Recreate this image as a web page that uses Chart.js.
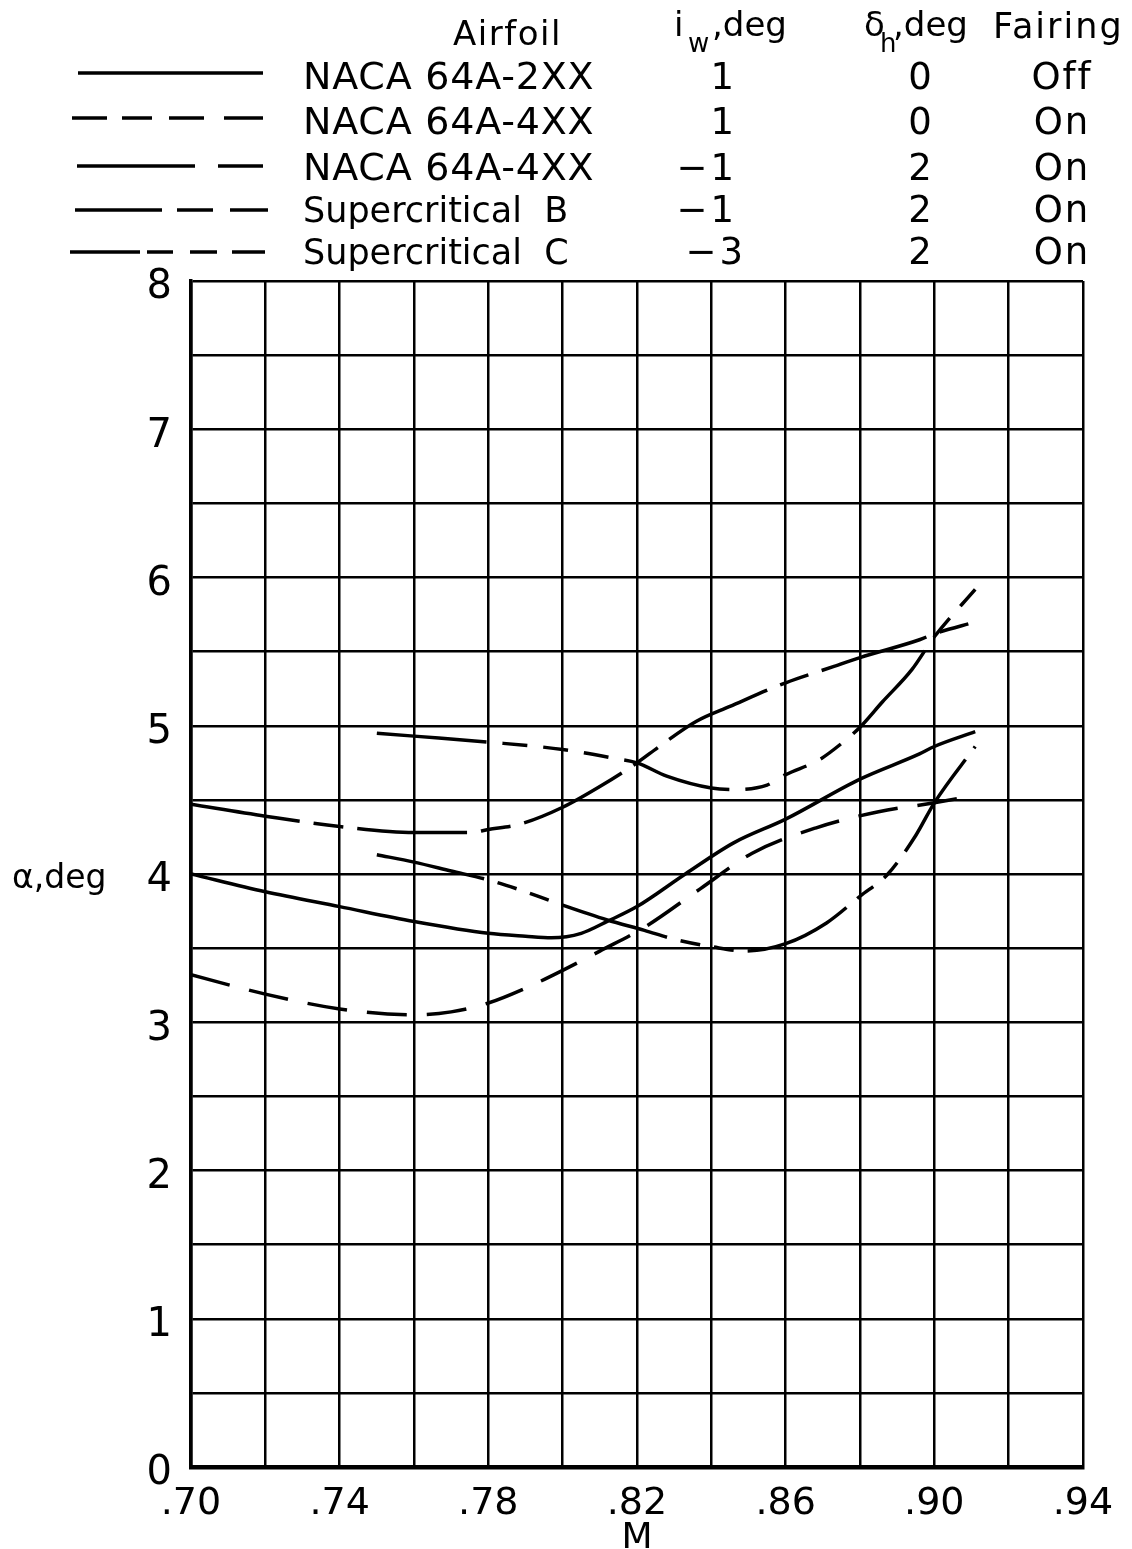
<!DOCTYPE html>
<html>
<head>
<meta charset="utf-8">
<script src="https://cdn.jsdelivr.net/npm/chart.js@4.4.1/dist/chart.umd.min.js"></script>
<style>
html,body{margin:0;padding:0;background:#fff;}
#wrap{position:relative;width:1132px;height:1549px;background:#fff;}
#c{position:absolute;left:0;top:0;}
#ov{position:absolute;left:0;top:0;pointer-events:none;}
#ov text{font-family:'DejaVu Sans',sans-serif;fill:#000;white-space:pre;}
</style>
</head>
<body>
<div id="wrap">
<canvas id="c" width="1132" height="1549"></canvas>
<svg id="ov" width="1132" height="1549" xmlns="http://www.w3.org/2000/svg"></svg>
</div>
<script>
// ---------- DATA ----------
const seriesNames = ['NACA 64A-2XX', 'NACA 64A-4XX', 'NACA 64A-4XX', 'Supercritical\u00a0\u00a0B', 'Supercritical\u00a0\u00a0C'];
const iwDeg = ['1', '1', '\u22121', '\u22121', '\u22123'];
const dhDeg = ['0', '0', '2', '2', '2'];
const fairing = ['Off', 'On', 'On', 'On', 'On'];

// NACA 64A-2XX, iw 1, dh 0, fairing off
const mach64A2XX = [0.70, 0.72, 0.74, 0.76, 0.78, 0.79, 0.797, 0.805, 0.812, 0.82, 0.833, 0.846, 0.86, 0.88, 0.896, 0.90, 0.911];
const alpha64A2XX = [4.00, 3.88, 3.78, 3.68, 3.60, 3.58, 3.57, 3.60, 3.68, 3.78, 4.00, 4.21, 4.37, 4.64, 4.81, 4.86, 4.96];

// NACA 64A-4XX, iw 1, dh 0, fairing on
const mach64A4XXa = [0.70, 0.72, 0.74, 0.76, 0.77, 0.78, 0.79, 0.80, 0.81, 0.822, 0.837, 0.851, 0.868, 0.885, 0.90, 0.911];
const alpha64A4XXa = [3.32, 3.19, 3.09, 3.05, 3.07, 3.13, 3.23, 3.35, 3.48, 3.64, 3.90, 4.14, 4.31, 4.42, 4.48, 4.53];

// NACA 64A-4XX, iw -1, dh 2, fairing on
const mach64A4XXb = [0.70, 0.72, 0.74, 0.76, 0.775, 0.78, 0.789, 0.80, 0.81, 0.82, 0.826, 0.836, 0.845, 0.86, 0.873, 0.88, 0.896, 0.90, 0.911];
const alpha64A4XXb = [4.47, 4.39, 4.32, 4.28, 4.28, 4.30, 4.34, 4.45, 4.59, 4.75, 4.86, 5.03, 5.13, 5.29, 5.40, 5.46, 5.58, 5.62, 5.70];

// Supercritical B, iw -1, dh 2, fairing on
const machSuperB = [0.75, 0.76, 0.77, 0.78, 0.79, 0.80, 0.812, 0.822, 0.83, 0.84, 0.849, 0.86, 0.871, 0.88, 0.8875, 0.895, 0.90, 0.911];
const alphaSuperB = [4.13, 4.08, 4.02, 3.96, 3.88, 3.79, 3.69, 3.62, 3.56, 3.51, 3.48, 3.53, 3.67, 3.85, 4.00, 4.26, 4.48, 4.86];

// Supercritical C, iw -3, dh 2, fairing on
const machSuperC = [0.75, 0.76, 0.78, 0.80, 0.814, 0.82, 0.828, 0.84, 0.846, 0.855, 0.86, 0.869, 0.875, 0.88, 0.886, 0.894, 0.90, 0.911];
const alphaSuperC = [4.95, 4.93, 4.89, 4.84, 4.78, 4.75, 4.66, 4.58, 4.57, 4.60, 4.67, 4.77, 4.88, 4.99, 5.16, 5.38, 5.60, 5.92];

const xTickValues = [0.70, 0.74, 0.78, 0.82, 0.86, 0.90, 0.94];
const xTickLabels = ['.70', '.74', '.78', '.82', '.86', '.90', '.94'];
const yTickValues = [0, 1, 2, 3, 4, 5, 6, 7, 8];
const yTickLabels = ['0', '1', '2', '3', '4', '5', '6', '7', '8'];
const xAxisTitle = 'M';
const yAxisTitle = '\u03b1,deg';

// ---------- STYLE ----------
const seriesX = [mach64A2XX, mach64A4XXa, mach64A4XXb, machSuperB, machSuperC];
const seriesY = [alpha64A2XX, alpha64A4XXa, alpha64A4XXb, alphaSuperB, alphaSuperC];
const seriesDash = [[], [40, 20], [110, 14, 30, 14], [110, 14, 20, 14, 20, 14], [110, 16, 25, 16, 25, 16, 25, 16]];

const FONT = "'DejaVu Sans', sans-serif";
const xGrid = Array.from({length: 13}, (_, i) => +(0.70 + i * 0.02).toFixed(2));
const yGrid = Array.from({length: 17}, (_, i) => i * 0.5);

const datasets = seriesNames.map((name, k) => ({
  label: name,
  data: seriesX[k].map((m, i) => ({x: m, y: seriesY[k][i]})),
  borderColor: '#000',
  borderWidth: 3.5,
  borderDash: seriesDash[k],
  borderCapStyle: 'butt',
  pointRadius: 0,
  fill: false,
  cubicInterpolationMode: 'monotone'
}));

new Chart(document.getElementById('c').getContext('2d'), {
  type: 'line',
  data: {datasets},
  options: {
    responsive: false,
    animation: false,
    layout: {padding: {left: 0, right: 49, top: 281, bottom: 0}},
    plugins: {legend: {display: false}, tooltip: {enabled: false}, title: {display: false}},
    scales: {
      x: {
        type: 'linear', min: 0.70, max: 0.94,
        afterFit: s => { s.height = 82; },
        afterBuildTicks: s => { s.ticks = xGrid.map(v => ({value: v})); },
        ticks: {
          autoSkip: false, maxRotation: 0, padding: 14, color: '#000',
          font: {family: FONT, size: 38},
          callback: v => { const i = xTickValues.findIndex(t => Math.abs(t - v) < 1e-6); return i >= 0 ? xTickLabels[i] : ''; }
        },
        grid: {color: '#000', lineWidth: 2.5, drawTicks: false},
        border: {color: '#000', width: 4.5},
        title: {display: true, text: xAxisTitle, color: '#000', font: {family: FONT, size: 36, lineHeight: 0.6}, padding: {top: 0, bottom: 0}}
      },
      y: {
        type: 'linear', min: 0, max: 8,
        afterFit: s => { s.width = 191; },
        afterBuildTicks: s => { s.ticks = yGrid.map(v => ({value: v})); },
        ticks: {
          autoSkip: false, padding: 19, color: '#000', labelOffset: 7,
          font: {family: FONT, size: 40},
          callback: v => { const i = yTickValues.findIndex(t => Math.abs(t - v) < 1e-6); return i >= 0 ? yTickLabels[i] : ''; }
        },
        grid: {color: '#000', lineWidth: 2.5, drawTicks: false},
        border: {color: '#000', width: 3.5}
      }
    }
  }
});

// ---------- LEGEND TABLE (SVG overlay) ----------
const NS = 'http://www.w3.org/2000/svg';
const ov = document.getElementById('ov');
function txt(x, y, s, size, opts = {}) {
  const t = document.createElementNS(NS, 'text');
  t.setAttribute('x', x); t.setAttribute('y', y);
  t.setAttribute('font-size', size);
  if (opts.anchor) t.setAttribute('text-anchor', opts.anchor);
  if (opts.ls) t.style.letterSpacing = opts.ls + 'px';
  t.textContent = s;
  ov.appendChild(t);
  return t;
}
function seg(x1, x2, y) {
  const l = document.createElementNS(NS, 'line');
  l.setAttribute('x1', x1); l.setAttribute('x2', x2);
  l.setAttribute('y1', y); l.setAttribute('y2', y);
  l.setAttribute('stroke', '#000'); l.setAttribute('stroke-width', 3.5);
  ov.appendChild(l);
}
const legendLayout = {
  keyY: [73, 118, 166, 210, 252],
  keySegs: [
    [[78, 263]],
    [[72, 107], [122, 152], [169, 204], [224, 263]],
    [[77, 195], [218, 263]],
    [[75, 162], [177, 213], [230, 268]],
    [[70, 140], [147, 173], [190, 217], [232, 265]]
  ],
  baseY: [89, 134, 180, 222, 264],
  nameX: 303, nameSize: [38, 38, 38, 35, 35], nameLs: [0.8, 0.8, 0.8, 0, 0],
  iwX: [737, 737, 737, 737, 746],
  dhX: 920, fairX: 1062, valSize: 37
};
// headers
txt(453, 45, 'Airfoil', 34, {ls: 1.5});
txt(674, 36, 'i', 34);
txt(688, 52, 'w', 26);
txt(712, 36, ',deg', 34);
txt(864, 36, '\u03b4', 34);
txt(880, 52, 'h', 26);
txt(893, 36, ',deg', 34);
txt(993, 38, 'Fairing', 35, {ls: 2});
seriesNames.forEach((name, k) => {
  const L = legendLayout;
  L.keySegs[k].forEach(s => seg(s[0], s[1], L.keyY[k]));
  txt(L.nameX, L.baseY[k], name, L.nameSize[k], {ls: L.nameLs[k]});
  txt(L.iwX[k], L.baseY[k], iwDeg[k], L.valSize, {anchor: 'end', ls: 3});
  txt(L.dhX, L.baseY[k], dhDeg[k], L.valSize, {anchor: 'middle'});
  txt(L.fairX, L.baseY[k], fairing[k], L.valSize, {anchor: 'middle', ls: 2});
});
txt(12, 888, yAxisTitle, 33);
</script>
</body>
</html>
